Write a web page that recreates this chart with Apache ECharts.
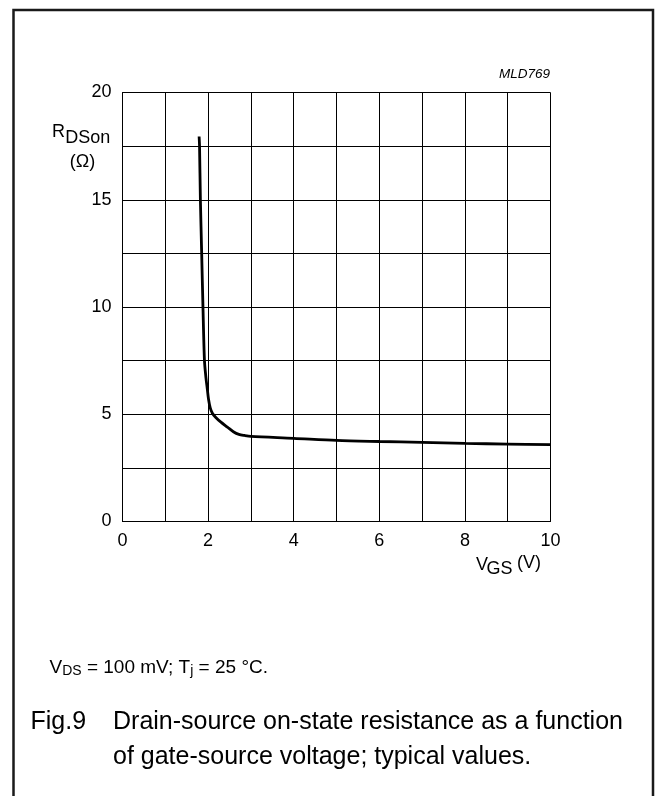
<!DOCTYPE html>
<html><head><meta charset="utf-8">
<script src="https://cdn.jsdelivr.net/npm/echarts@6/dist/echarts.min.js"></script>
<style>html,body{margin:0;padding:0;background:#fff}#c{width:655px;height:796px}</style>
</head><body><div id="c"></div>
<script>
// V_GS (V)
const vgs = [1.79, 1.80, 1.82, 1.85, 1.88, 1.915, 1.95, 1.98, 2.01, 2.05, 2.10, 2.18, 2.30, 2.45, 2.60, 2.72, 2.85, 3.00, 4.00, 5.00, 6.00, 7.00, 8.00, 9.00, 10.00];
// R_DSon (Ohm)
const rdson = [17.95, 17.5, 15.0, 12.5, 10.0, 7.5, 6.7, 6.2, 5.7, 5.3, 5.05, 4.85, 4.63, 4.4, 4.17, 4.06, 4.01, 3.97, 3.88, 3.78, 3.73, 3.69, 3.64, 3.61, 3.58];
const xTickLabels = [0, 2, 4, 6, 8, 10];
const yTickLabels = [0, 5, 10, 15, 20];

const FONT = "'Liberation Sans', Arial, Helvetica, sans-serif";
const chart = echarts.init(document.getElementById('c'), null, {renderer: 'canvas'});
chart.setOption({
  animation: false,
  backgroundColor: '#fff',
  grid: {left: 122.5, top: 92.5, right: 104.5, bottom: 274.5, containLabel: false, outerBoundsMode: 'none'},
  xAxis: {
    type: 'value', min: 0, max: 10, interval: 1,
    axisLine: {show: true, lineStyle: {color: '#000', width: 1}},
    axisTick: {show: false},
    splitLine: {show: true, lineStyle: {color: '#000', width: 1}},
    axisLabel: {margin: 11, fontSize: 18, fontFamily: FONT, color: '#000',
      formatter: v => xTickLabels.includes(v) ? String(v) : ''}
  },
  yAxis: {
    type: 'value', min: 0, max: 20, interval: 2.5,
    axisLine: {show: true, lineStyle: {color: '#000', width: 1}},
    axisTick: {show: false},
    splitLine: {show: true, lineStyle: {color: '#000', width: 1}},
    axisLabel: {margin: 11, fontSize: 18, fontFamily: FONT, color: '#000',
      formatter: v => yTickLabels.includes(v) ? String(v) : ''}
  },
  series: [{
    type: 'line',
    data: vgs.map((x, i) => [x, rdson[i]]),
    showSymbol: false,
    smooth: 0.3,
    lineStyle: {color: '#000', width: 2.8},
    silent: true
  }],
  graphic: [
    {type: 'rect', silent: true, shape: {x: 13.5, y: 10, width: 639.5, height: 820},
      style: {fill: 'none', stroke: '#1a1a1a', lineWidth: 2.5}},
    {type: 'text', x: 550, y: 74, style: {text: 'MLD769', font: 'italic 13.5px ' + FONT, fill: '#000', align: 'right', verticalAlign: 'middle'}},
    {type: 'text', x: 52, y: 132.5, style: {text: 'R', font: '18px ' + FONT, fill: '#000', align: 'left', verticalAlign: 'middle'}},
    {type: 'text', x: 65.3, y: 138.5, style: {text: 'DSon', font: '18px ' + FONT, fill: '#000', align: 'left', verticalAlign: 'middle'}},
    {type: 'text', x: 82.5, y: 162.5, style: {text: '(Ω)', font: '18px ' + FONT, fill: '#000', align: 'center', verticalAlign: 'middle'}},
    {type: 'text', x: 476, y: 565, style: {text: 'V', font: '18px ' + FONT, fill: '#000', align: 'left', verticalAlign: 'middle'}},
    {type: 'text', x: 486.5, y: 569, style: {text: 'GS', font: '18px ' + FONT, fill: '#000', align: 'left', verticalAlign: 'middle'}},
    {type: 'text', x: 517, y: 563, style: {text: '(V)', font: '18px ' + FONT, fill: '#000', align: 'left', verticalAlign: 'middle'}},
    {type: 'text', x: 49.5, y: 667.5, style: {
      text: '{n|V}{s|DS}{n| = 100 mV; T}{s|j}{n| = 25 °C.}',
      align: 'left', verticalAlign: 'middle',
      rich: {
        n: {fontSize: 19, fontFamily: FONT, color: '#000', lineHeight: 22},
        s: {fontSize: 14, fontFamily: FONT, color: '#000', lineHeight: 14, verticalAlign: 'bottom'}
      }}},
    {type: 'text', x: 30.5, y: 722, style: {text: 'Fig.9', font: '25px ' + FONT, fill: '#000', align: 'left', verticalAlign: 'middle'}},
    {type: 'text', x: 113, y: 722, style: {text: 'Drain-source on-state resistance as a function', font: '25px ' + FONT, fill: '#000', align: 'left', verticalAlign: 'middle'}},
    {type: 'text', x: 113, y: 757, style: {text: 'of gate-source voltage; typical values.', font: '25px ' + FONT, fill: '#000', align: 'left', verticalAlign: 'middle'}}
  ]
});
</script>
</body></html>
